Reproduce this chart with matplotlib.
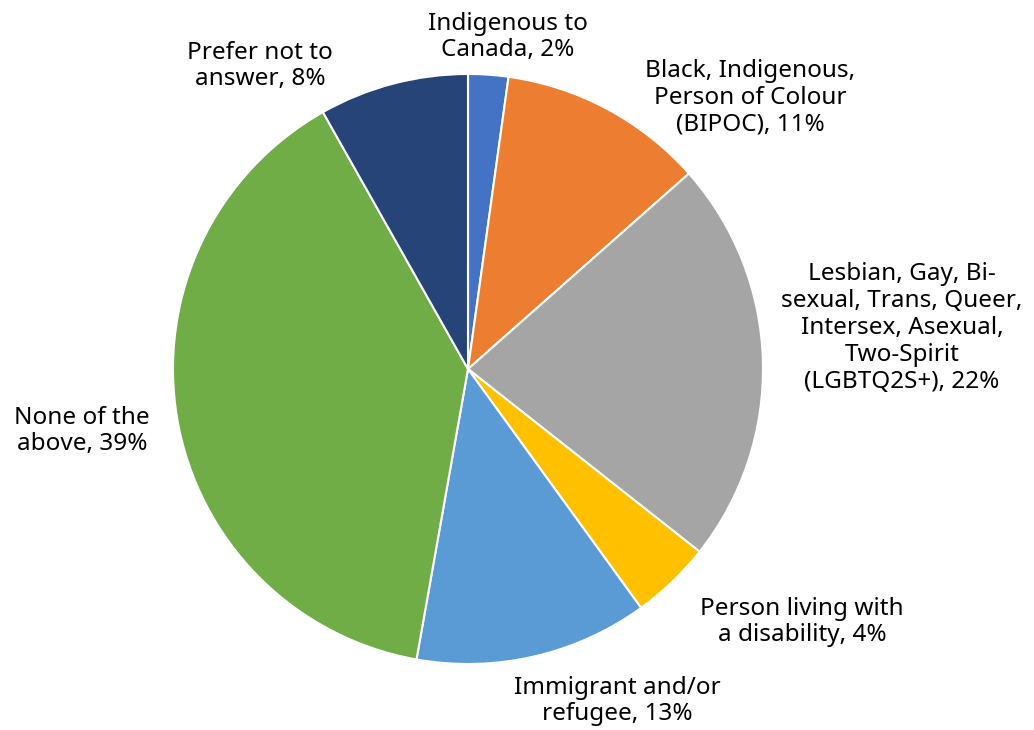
import matplotlib.pyplot as plt

plt.rcParams['font.family'] = ['Noto Sans', 'DejaVu Sans']

# slice labels and shares, clockwise from 12 o'clock
categories = [
    "Indigenous to\nCanada",
    "Black, Indigenous,\nPerson of Colour\n(BIPOC)",
    "Lesbian, Gay, Bi-\nsexual, Trans, Queer,\nIntersex, Asexual,\nTwo-Spirit\n(LGBTQ2S+)",
    "Person living with\na disability",
    "Immigrant and/or\nrefugee",
    "None of the\nabove",
    "Prefer not to\nanswer",
]
shares = [2.2, 11.3, 22.2, 4.4, 12.8, 39.1, 8.2]
colors = ['#4472C4', '#ED7D31', '#A5A5A5', '#FFC000', '#5B9BD5', '#70AD47', '#264478']

# label centres in pixel space (x from left, y from top)
label_pos = [(508, 37), (750, 98), (902, 328), (802, 622), (617, 701), (82, 431), (260, 66)]

W, H = 1034, 730


def main():
    fig = plt.figure(figsize=(W / 100, H / 100), dpi=100)
    ax = fig.add_axes([0, 0, 1, 1])

    ax.pie(shares, colors=colors, startangle=90, counterclock=False,
           center=(468, H - 369), radius=295,
           wedgeprops=dict(edgecolor='white', linewidth=1.5))

    total = sum(shares)
    for cat, val, (x, y) in zip(categories, shares, label_pos):
        pct = round(val / total * 100)
        # last line of the label gets the percentage
        ax.text(x, H - y, f"{cat}, {pct}%", ha='center', va='center',
                fontsize=17.5, fontweight='medium', linespacing=1.16, color='#000000')

    ax.set_xlim(0, W)
    ax.set_ylim(0, H)
    ax.set_aspect('equal')
    ax.axis('off')

    fig.savefig("out.png", dpi=100)


if __name__ == "__main__":
    main()
